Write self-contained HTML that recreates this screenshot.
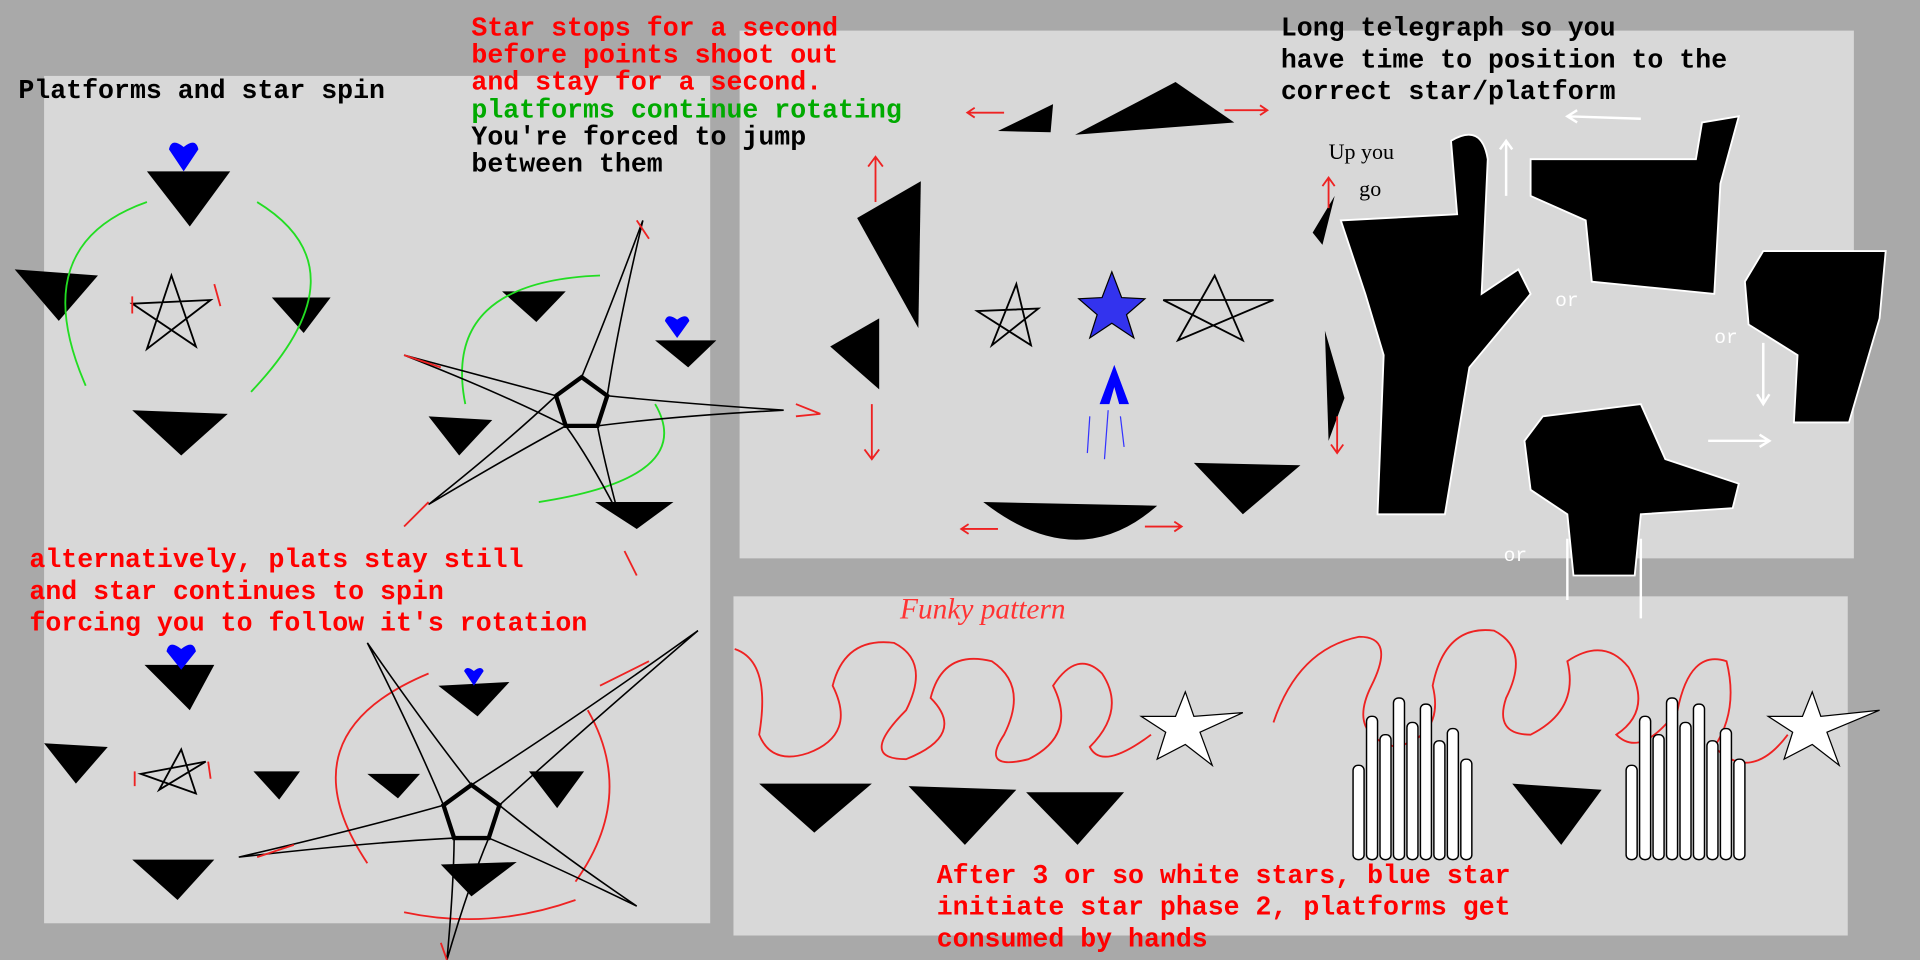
<!DOCTYPE html>
<html><head><meta charset="utf-8"><style>
html,body{margin:0;padding:0;background:#a9a9a9;width:1920px;height:960px;overflow:hidden}
svg{display:block}
text{font-family:"Liberation Mono",monospace;font-size:21.7px;font-weight:bold}
</style></head><body>
<svg id="cv" width="1920" height="960" viewBox="0 0 1568 784">
<rect x="0" y="0" width="1568" height="784" fill="#a9a9a9"/>
<rect x="36" y="62" width="544" height="692" fill="#d8d8d8"/>
<rect x="604" y="25" width="910" height="431" fill="#d8d8d8"/>
<rect x="599" y="487" width="910" height="277" fill="#d8d8d8"/>

<g>
<text x="15" y="80" fill="#000">Platforms and star spin</text>
<text x="385" y="29" fill="#f00">Star stops for a second</text>
<text x="385" y="51" fill="#f00">before points shoot out</text>
<text x="385" y="73" fill="#f00">and stay for a second.</text>
<text x="385" y="96" fill="#0a0">platforms continue rotating</text>
<text x="385" y="118" fill="#000">You're forced to jump</text>
<text x="385" y="140" fill="#000">between them</text>
<text x="1046" y="29" fill="#000">Long telegraph so you</text>
<text x="1046" y="55" fill="#000">have time to position to the</text>
<text x="1046" y="81" fill="#000">correct star/platform</text>
<text x="24" y="463" fill="#f00">alternatively, plats stay still</text>
<text x="24" y="489" fill="#f00">and star continues to spin</text>
<text x="24" y="515" fill="#f00">forcing you to follow it's rotation</text>
<text x="765" y="721" fill="#f00">After 3 or so white stars, blue star</text>
<text x="765" y="747" fill="#f00">initiate star phase 2, platforms get</text>
<text x="765" y="773" fill="#f00">consumed by hands</text>
<text x="735" y="505" fill="#f33" style="font-family:'Liberation Serif',serif;font-style:italic;font-weight:normal;font-size:24px">Funky pattern</text>
<text x="1085" y="130" fill="#000" style="font-family:'Liberation Serif',serif;font-weight:normal;font-size:18px">Up you</text>
<text x="1110" y="160" fill="#000" style="font-family:'Liberation Serif',serif;font-weight:normal;font-size:18px">go</text>
<text x="1270" y="250" fill="#fff" style="font-weight:normal;font-size:16px">or</text>
<text x="1400" y="280" fill="#fff" style="font-weight:normal;font-size:16px">or</text>
<text x="1228" y="458" fill="#fff" style="font-weight:normal;font-size:16px">or</text>
</g>

<g fill="#000">
<path d="M120 140 L188 140 L155 185Z"/><path d="M12 220 L80 225 L48 262Z"/><path d="M222 243 L270 243 L248 272Z"/>
<path d="M108 335 L186 338 L148 372Z"/><path d="M410 238 L462 238 L438 263Z"/><path d="M535 278 L585 278 L562 300Z"/>
<path d="M350 340 L402 343 L375 372Z"/><path d="M486 410 L550 410 L520 432Z"/>
<path d="M118 543 L175 543 L155 580Z"/><path d="M36 607 L88 610 L62 640Z"/><path d="M207 630 L245 630 L228 653Z"/>
<path d="M300 632 L343 632 L325 652Z"/><path d="M432 630 L477 630 L455 660Z"/><path d="M358 560 L416 557 L390 585Z"/>
<path d="M108 702 L175 702 L145 735Z"/><path d="M360 706 L422 704 L385 732Z"/>
<path d="M815 107 L860 85 L858 108Z"/><path d="M878 110 L960 67 L1008 100Z"/><path d="M700 178 L752 148 L750 268Z"/>
<path d="M678 283 L718 260 L718 318Z"/><path d="M975 378 L1062 380 L1015 420Z"/><path d="M803 410 L945 413 Q880 470 803 410Z"/>
<path d="M1072 190 L1090 160 L1080 200Z"/><path d="M1082 270 L1098 325 L1085 360Z"/>
<path d="M620 640 L712 640 L665 680Z"/><path d="M742 642 L830 645 L788 690Z"/><path d="M838 647 L918 647 L880 690Z"/>
<path d="M1235 640 L1308 645 L1275 690Z"/>
</g>

<g fill="#00f">
<path d="M150 140 L138 122 Q140 112 150 120 Q160 112 162 122Z"/>
<path d="M553 276 L543 262 Q545 255 553 261 Q561 255 563 262Z"/>
<path d="M148 547 L136 532 Q138 522 148 530 Q158 522 160 532Z"/>
<path d="M387 560 L379 548 Q381 543 387 548 Q393 543 395 548Z"/>
<path d="M898 330 L910 298 L922 330 L914 330 L910 316 L906 330Z"/>
</g>

<g fill="none" stroke-width="1.5">
<path d="M70 315 Q20 200 120 165" stroke="#2d2"/><path d="M210 165 Q300 220 205 320" stroke="#2d2"/>
<path d="M380 330 Q360 230 490 225" stroke="#2d2"/><path d="M535 330 Q570 390 440 410" stroke="#2d2"/>
<path d="M300 705 Q230 600 350 550" stroke="#e22"/><path d="M480 580 Q520 650 470 720" stroke="#e22"/>
<path d="M330 745 Q400 760 470 735" stroke="#e22"/>
</g>

<g fill="none" stroke="#000" stroke-width="1.5">
<path d="M140 225 L120 285 L172 245 L108 248 L160 283Z"/>
<path d="M148 612 L130 645 L168 622 L115 632 L160 648Z" />
<path d="M830 232 L810 282 L848 252 L798 254 L842 282Z"/>
<path d="M992 225 L962 278 L1040 245 L950 245 L1015 278Z"/>
</g>
<g id="spiky"></g>
<path d="M908 222 L916 243 L935 244 L920 257 L926 276 L908 264 L890 276 L896 257 L881 244 L900 243Z" fill="#3333ee" stroke="#000"/>
<path d="M968 565 L975 585 L1015 582 L980 598 L990 625 L968 608 L945 620 L952 598 L932 585 L960 585Z" fill="#fff" stroke="#000"/>
<path d="M1480 565 L1487 585 L1535 580 L1492 598 L1502 625 L1480 608 L1457 620 L1464 598 L1444 585 L1472 585Z" fill="#fff" stroke="#000"/>

<g fill="none" stroke="#e22" stroke-width="1.5">
<path d="M600 530 Q630 540 620 600 Q630 625 660 615 Q700 600 680 560 Q690 520 730 525 Q760 540 740 580 Q700 620 740 620 Q790 600 760 570 Q770 530 810 540 Q840 560 820 600 Q800 630 840 620 Q880 600 860 560 Q880 530 900 550 Q920 580 890 610 Q900 630 940 600"/>
<path d="M1040 590 Q1060 530 1110 520 Q1140 520 1120 560 Q1100 600 1140 610 Q1180 600 1170 560 Q1180 510 1220 515 Q1250 530 1230 570 Q1220 600 1250 600 Q1290 580 1280 540 Q1310 520 1330 545 Q1350 580 1320 600 Q1340 620 1370 580 Q1380 530 1410 540 Q1420 580 1400 610 Q1430 640 1460 600"/>
</g>

<g fill="#000" stroke="#fff" stroke-width="1.5">
<path d="M1125 420 L1130 290 L1115 240 L1095 180 L1190 175 L1185 115 Q1210 100 1215 130 L1210 240 L1240 220 L1250 240 L1200 300 L1180 420Z"/>
<path d="M1250 130 L1385 130 L1390 100 L1420 95 L1405 150 L1400 240 L1300 230 L1295 180 L1250 160Z"/>
<path d="M1425 230 L1440 205 L1540 205 L1535 260 L1510 345 L1465 345 L1468 290 L1428 265Z"/>
<path d="M1245 360 L1260 340 L1340 330 L1360 375 L1420 395 L1415 415 L1340 420 L1335 470 L1285 470 L1280 420 L1250 400Z"/>
</g>
<g id="crowds" fill="#fff" stroke="#000" stroke-width="1.2"></g>

<g fill="none" stroke="#e22" stroke-width="1.5">
<path d="M715 128 L715 165 M709 136 L715 128 L721 136"/><path d="M712 330 L712 375 M706 367 L712 375 L718 367"/>
<path d="M790 92 L820 92 M796 88 L790 92 L796 96"/><path d="M1000 90 L1035 90 M1029 86 L1035 90 L1029 94"/>
<path d="M785 432 L815 432 M791 428 L785 432 L791 436"/><path d="M935 430 L965 430 M959 426 L965 430 L959 434"/>
<path d="M1085 145 L1085 170 M1080 152 L1085 145 L1090 152"/><path d="M1092 340 L1092 370 M1087 363 L1092 370 L1097 363"/>
<path d="M650 330 L670 338 M650 340 L670 338"/>
<path d="M330 290 L360 300 M350 410 L330 430 M520 180 L530 195 M510 450 L520 470 M490 560 L530 540 M210 700 L240 690 M360 770 L365 784 M110 630 L110 642 M170 622 L172 636 M108 242 L108 256 M175 232 L180 250"/>
</g>
<g fill="none" stroke="#fff" stroke-width="2">
<path d="M1280 95 L1340 97 M1288 90 L1280 95 L1288 100"/><path d="M1230 115 L1230 160 M1225 122 L1230 115 L1235 122"/>
<path d="M1440 280 L1440 330 M1435 322 L1440 330 L1445 322"/><path d="M1395 360 L1445 360 M1437 355 L1445 360 L1437 365"/>
<path d="M1280 440 L1280 490 M1340 440 L1340 505"/>
</g>
<path d="M890 340 L888 370 M905 335 L902 375 M915 340 L918 365" stroke="#33f" fill="none"/>
</svg>
<script>
const NS="http://www.w3.org/2000/svg";
const star1Tips=[[525,180],[640,335],[505,420],[350,412],[330,290]];
const star2Tips=[[300,525],[570,515],[520,740],[365,784],[195,700]];
function spiky(cx,cy,r,tips,name){
  const g=document.getElementById('spiky');
  const pts=[];
  for(let i=0;i<5;i++){const a=-Math.PI/2+i*2*Math.PI/5;pts.push([cx+r*Math.cos(a),cy+r*Math.sin(a)]);}
  const pent=document.createElementNS(NS,'polygon');
  pent.setAttribute('points',pts.map(p=>p.join(',')).join(' '));
  pent.setAttribute('fill','none');pent.setAttribute('stroke','#000');pent.setAttribute('stroke-width','3.5');
  
  
  g.appendChild(pent);
  tips.forEach(t=>{
    // two nearest pentagon vertices
    const s=pts.map((p,i)=>[Math.hypot(p[0]-t[0],p[1]-t[1]),i]).sort((a,b)=>a[0]-b[0]);
    const a=pts[s[0][1]],b=pts[s[1][1]];
    const p=document.createElementNS(NS,'path');
    const mx=(a[0]+t[0])/2,my=(a[1]+t[1])/2,nx=(b[0]+t[0])/2,ny=(b[1]+t[1])/2;
    p.setAttribute('d',`M${a[0]} ${a[1]} Q${mx+(cx-mx)*0.15} ${my+(cy-my)*0.15} ${t[0]} ${t[1]} Q${nx+(cx-nx)*0.15} ${ny+(cy-ny)*0.15} ${b[0]} ${b[1]}`);
    p.setAttribute('fill','none');p.setAttribute('stroke','#000');p.setAttribute('stroke-width','1.3');
    
    
    g.appendChild(p);
  });
}
spiky(475,330,22,star1Tips,'spiky-star-top');
spiky(385,665,24,star2Tips,'spiky-star-bottom');
// crowds of thin fingers
const crowdX=[1105,1328];
const cg=document.getElementById('crowds');
crowdX.forEach(x0=>{
  const tops=[625,585,600,570,590,575,605,595,620];
  tops.forEach((t,i)=>{
    const r=document.createElementNS(NS,'rect');
    r.setAttribute('x',x0+i*11);r.setAttribute('y',t);r.setAttribute('width',9);r.setAttribute('height',702-t);r.setAttribute('rx',4);
    
    
    cg.appendChild(r);
  });
});
</script>
</body></html>
